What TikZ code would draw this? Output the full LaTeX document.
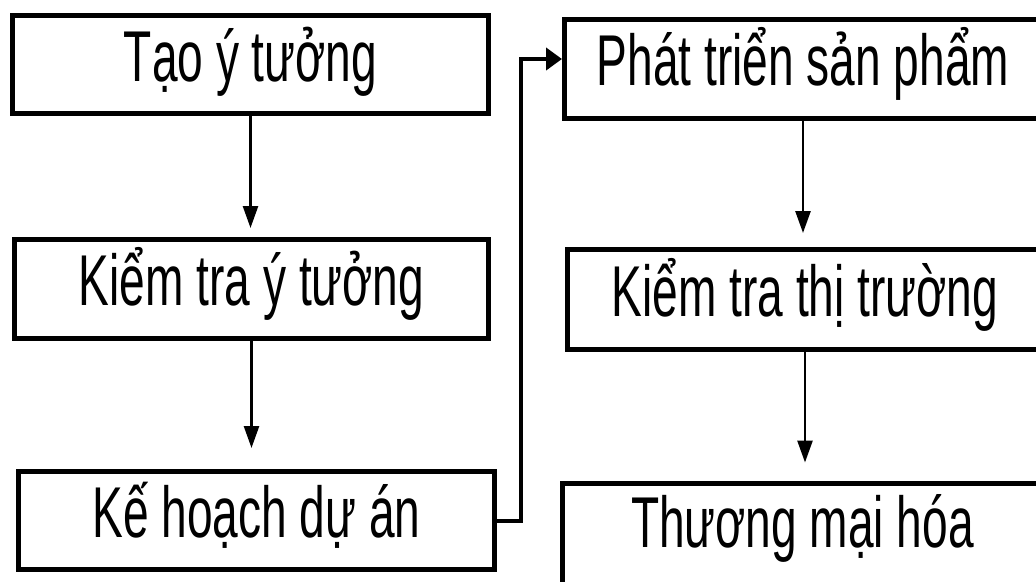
\documentclass[tikz,border=0pt]{standalone}
\usepackage{fontspec}
\setmainfont[FakeStretch=0.64]{Liberation Sans}
\usetikzlibrary{arrows.meta}
\tikzset{
  stepbox/.style={draw=black, line width=5pt, rectangle, inner sep=0pt,
    font=\fontsize{72pt}{80pt}\selectfont, text height=50pt, text depth=17pt},
  flow/.style={line width=2.6pt, -{Triangle[length=22pt,width=15pt]}},
  loopline/.style={line width=4pt, -{Triangle[length=16pt,width=22pt]}},
}
\begin{document}
\begin{tikzpicture}[x=1pt,y=-1pt]
\useasboundingbox (0,0) rectangle (1036,581);
\clip (0,0) rectangle (1036,581);
\fill[white] (0,0) rectangle (1036,581);
\node[stepbox, minimum width=476pt, minimum height=98pt] (b1) at (250.5,64.5) {Tạo ý tưởng};
\node[stepbox, minimum width=474pt, minimum height=99pt] (b2) at (251.5,289) {Kiểm tra ý tưởng};
\node[stepbox, minimum width=476pt, minimum height=98pt] (b3) at (256.5,520.5) {Kế hoạch dự án};
\node[stepbox, minimum width=477pt, minimum height=99pt] (b4) at (803,69) {Phát triển sản phẩm};
\node[stepbox, minimum width=475pt, minimum height=100pt] (b5) at (805,299.5) {Kiểm tra thị trường};
\node[stepbox, minimum width=480pt, minimum height=114pt, text depth=36pt] (b6) at (802.5,540) {Thương mại hóa};
\draw[flow, shorten >=9pt] (b1.south) -- (b1.south |- b2.north);
\draw[flow, shorten >=21pt] (b2.south) -- (b2.south |- b3.north);
\draw[flow, shorten >=14pt] (b4.south) -- (b4.south |- b5.north);
\draw[flow, shorten >=18pt] (b5.south) -- (b5.south |- b6.north);
\coordinate (up) at (521,59);
\draw[loopline] (b3.east) -| (up) -- (up -| b4.west);
\end{tikzpicture}
\end{document}
